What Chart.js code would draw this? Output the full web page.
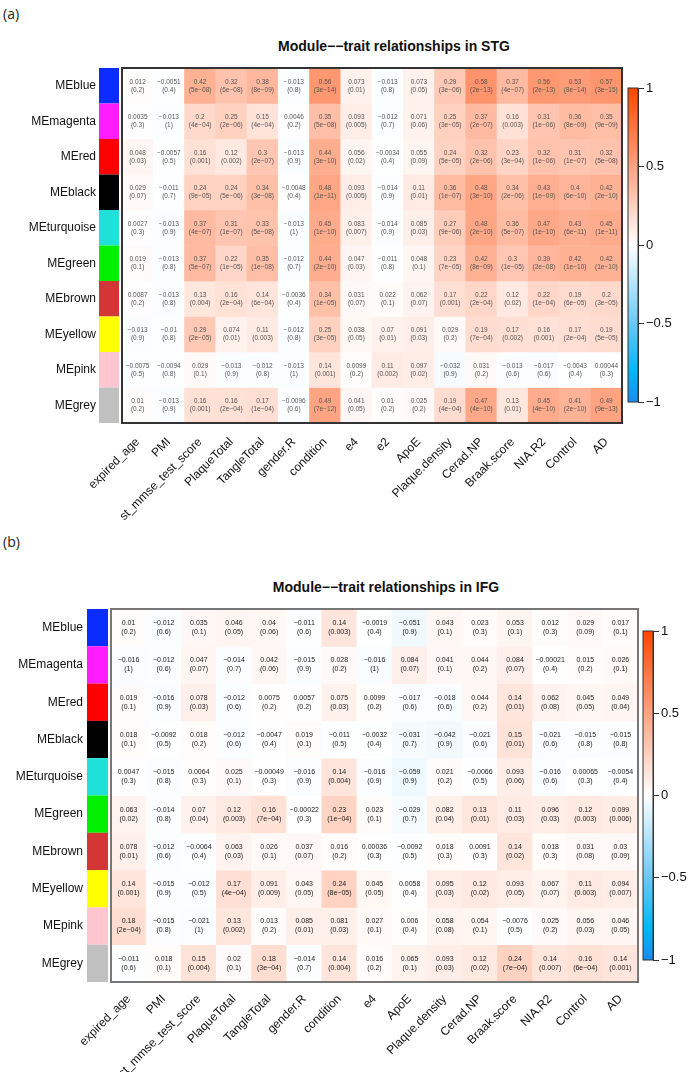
<!DOCTYPE html>
<html>
<head>
<meta charset="utf-8">
<script src="https://cdn.jsdelivr.net/npm/chart.js@4.4.1/dist/chart.umd.min.js"></script>
<style>
  html, body { margin: 0; padding: 0; background: #fff; }
  body { width: 688px; height: 1072px; position: relative; overflow: hidden; font-family: "Liberation Sans", Arial, sans-serif; }
  .tag { position: absolute; left: 3px; font-family: "Open Sans", sans-serif; font-size: 14px; color: #222; }
  .title { position: absolute; font-weight: bold; font-size: 14px; color: #111; transform: translateX(-50%); white-space: nowrap; }
  .box { position: absolute; }
</style>
</head>
<body>
<div class="tag" style="top:4px">(a)</div>
<div class="title" style="left:394px; top:38px">Module&minus;&minus;trait relationships in STG</div>
<div class="box" style="left:0; top:66px; width:625px; height:457px"><canvas id="heatA"></canvas></div>
<div class="box" style="left:620px; top:80px; width:68px; height:330px"><canvas id="barA"></canvas></div>

<div class="tag" style="top:532px">(b)</div>
<div class="title" style="left:386px; top:579px">Module&minus;&minus;trait relationships in IFG</div>
<div class="box" style="left:0; top:607px; width:641px; height:465px"><canvas id="heatB"></canvas></div>
<div class="box" style="left:635px; top:623px; width:53px; height:345px"><canvas id="barB"></canvas></div>

<script>
// module eigengenes (rows) and their colours
const modules = ['MEblue', 'MEmagenta', 'MEred', 'MEblack', 'MEturquoise', 'MEgreen', 'MEbrown', 'MEyellow', 'MEpink', 'MEgrey'];
const modColors = ['#0a2cff', '#ff1cff', '#ff0000', '#000000', '#20e0da', '#00f000', '#d43535', '#ffff00', '#ffc6d0', '#c0c0c0'];

// traits (columns)
const traitsA = ['expired_age', 'PMI', 'st_mmse_test_score', 'PlaqueTotal', 'TangleTotal', 'gender.R', 'condition', 'e4', 'e2', 'ApoE', 'Plaque.density', 'Cerad.NP', 'Braak.score', 'NIA.R2', 'Control', 'AD'];
const traitsB = ['expired_age', 'PMI', 'st_mmse_test_score', 'PlaqueTotal', 'TangleTotal', 'gender.R', 'condition', 'e4', 'ApoE', 'Plaque.density', 'Cerad.NP', 'Braak.score', 'NIA.R2', 'Control', 'AD'];

// STG: correlation and p-value per module x trait
const corrA = [
  [0.012, -0.0051, 0.42, 0.32, 0.38, -0.013, 0.56, 0.073, -0.013, 0.073, 0.29, 0.58, 0.37, 0.56, 0.53, 0.57],
  [0.0035, -0.013, 0.2, 0.25, 0.15, 0.0046, 0.35, 0.093, -0.012, 0.071, 0.25, 0.37, 0.16, 0.31, 0.36, 0.35],
  [0.048, -0.0057, 0.16, 0.12, 0.3, -0.013, 0.44, 0.056, -0.0034, 0.055, 0.24, 0.32, 0.23, 0.32, 0.31, 0.32],
  [0.029, -0.011, 0.24, 0.24, 0.34, -0.0048, 0.48, 0.093, -0.014, 0.11, 0.36, 0.48, 0.34, 0.43, 0.4, 0.42],
  [0.0027, -0.013, 0.37, 0.31, 0.33, -0.013, 0.45, 0.083, -0.014, 0.085, 0.27, 0.48, 0.36, 0.47, 0.43, 0.45],
  [0.019, -0.013, 0.37, 0.22, 0.35, -0.012, 0.44, 0.047, -0.011, 0.048, 0.23, 0.42, 0.3, 0.39, 0.42, 0.42],
  [0.0087, -0.013, 0.13, 0.16, 0.14, -0.0036, 0.34, 0.031, 0.022, 0.062, 0.17, 0.22, 0.12, 0.22, 0.19, 0.2],
  [-0.013, -0.01, 0.29, 0.074, 0.11, -0.012, 0.25, 0.038, 0.07, 0.091, 0.029, 0.19, 0.17, 0.16, 0.17, 0.19],
  [-0.0075, -0.0094, 0.029, -0.013, -0.012, -0.013, 0.14, 0.0099, 0.11, 0.097, -0.032, 0.031, -0.013, -0.017, -0.0043, 0.00044],
  [0.01, -0.013, 0.16, 0.16, 0.17, -0.0096, 0.49, 0.041, 0.01, 0.025, 0.19, 0.47, 0.13, 0.45, 0.41, 0.49]
];
const pA = [
  ['0.2', '0.4', '5e-08', '6e-08', '8e-09', '0.8', '3e-14', '0.01', '0.8', '0.05', '3e-06', '2e-13', '4e-07', '2e-13', '8e-14', '3e-15'],
  ['0.3', '1', '4e-04', '2e-06', '4e-04', '0.2', '5e-08', '0.005', '0.7', '0.06', '3e-05', '2e-07', '0.003', '1e-06', '8e-09', '9e-09'],
  ['0.03', '0.5', '0.001', '0.002', '2e-07', '0.9', '3e-10', '0.02', '0.4', '0.09', '5e-05', '2e-06', '3e-04', '1e-06', '1e-07', '5e-08'],
  ['0.07', '0.7', '9e-05', '5e-06', '3e-08', '0.4', '1e-11', '0.005', '0.9', '0.01', '1e-07', '3e-10', '2e-06', '1e-09', '6e-10', '2e-10'],
  ['0.3', '0.9', '4e-07', '1e-07', '5e-08', '1', '1e-10', '0.007', '0.9', '0.03', '9e-06', '2e-10', '5e-07', '1e-10', '6e-11', '1e-11'],
  ['0.1', '0.8', '5e-07', '1e-05', '1e-08', '0.7', '2e-10', '0.03', '0.8', '0.1', '7e-05', '8e-09', '1e-05', '2e-08', '1e-10', '1e-10'],
  ['0.2', '0.8', '0.004', '2e-04', '6e-04', '0.4', '1e-05', '0.07', '0.1', '0.07', '0.001', '2e-04', '0.02', '1e-04', '6e-05', '3e-05'],
  ['0.9', '0.8', '2e-05', '0.01', '0.003', '0.8', '3e-05', '0.05', '0.01', '0.03', '0.2', '7e-04', '0.002', '0.001', '2e-04', '5e-05'],
  ['0.5', '0.8', '0.1', '0.9', '0.8', '1', '0.001', '0.2', '0.002', '0.02', '0.9', '0.2', '0.6', '0.6', '0.4', '0.3'],
  ['0.2', '0.9', '0.001', '2e-04', '1e-04', '0.6', '7e-12', '0.05', '0.2', '0.2', '4e-04', '4e-10', '0.01', '4e-10', '2e-10', '9e-13']
];

// IFG
const corrB = [
  [0.01, -0.012, 0.035, 0.046, 0.04, -0.011, 0.14, -0.0019, -0.051, 0.043, 0.023, 0.053, 0.012, 0.029, 0.017],
  [-0.016, -0.012, 0.047, -0.014, 0.042, -0.015, 0.028, -0.016, 0.084, 0.041, 0.044, 0.084, -0.00021, 0.015, 0.026],
  [0.019, -0.016, 0.078, -0.012, 0.0075, 0.0057, 0.075, 0.0099, -0.017, -0.018, 0.044, 0.14, 0.062, 0.045, 0.049],
  [0.018, -0.0092, 0.018, -0.012, -0.0047, 0.019, -0.011, -0.0032, -0.031, -0.042, -0.021, 0.15, -0.021, -0.015, -0.015],
  [0.0047, -0.015, 0.0064, 0.025, -0.00049, -0.016, 0.14, -0.016, -0.059, 0.021, -0.0066, 0.093, -0.016, 0.00065, -0.0054],
  [0.063, -0.014, 0.07, 0.12, 0.16, -0.00022, 0.23, 0.023, -0.029, 0.082, 0.13, 0.11, 0.096, 0.12, 0.099],
  [0.078, -0.012, -0.0064, 0.063, 0.026, 0.037, 0.016, 0.00036, -0.0092, 0.018, 0.0091, 0.14, 0.018, 0.031, 0.03],
  [0.14, -0.015, -0.012, 0.17, 0.091, 0.043, 0.24, 0.045, 0.0058, 0.095, 0.12, 0.093, 0.067, 0.11, 0.094],
  [0.18, -0.015, -0.021, 0.13, 0.013, 0.085, 0.081, 0.027, 0.006, 0.058, 0.054, -0.0076, 0.025, 0.056, 0.046],
  [-0.011, 0.018, 0.15, 0.02, 0.18, -0.014, 0.14, 0.016, 0.065, 0.093, 0.12, 0.24, 0.14, 0.16, 0.14]
];
const pB = [
  ['0.2', '0.6', '0.1', '0.05', '0.06', '0.6', '0.003', '0.4', '0.9', '0.1', '0.3', '0.1', '0.3', '0.09', '0.1'],
  ['1', '0.6', '0.07', '0.7', '0.06', '0.9', '0.2', '1', '0.07', '0.1', '0.2', '0.07', '0.4', '0.2', '0.1'],
  ['0.1', '0.9', '0.03', '0.6', '0.2', '0.2', '0.03', '0.2', '0.6', '0.6', '0.2', '0.01', '0.08', '0.05', '0.04'],
  ['0.1', '0.5', '0.2', '0.6', '0.4', '0.1', '0.5', '0.4', '0.7', '0.9', '0.6', '0.01', '0.6', '0.8', '0.8'],
  ['0.3', '0.8', '0.3', '0.1', '0.3', '0.9', '0.004', '0.9', '0.9', '0.2', '0.5', '0.06', '0.6', '0.3', '0.4'],
  ['0.02', '0.8', '0.04', '0.003', '7e-04', '0.3', '1e-04', '0.1', '0.7', '0.04', '0.01', '0.03', '0.03', '0.003', '0.006'],
  ['0.01', '0.6', '0.4', '0.03', '0.1', '0.07', '0.2', '0.3', '0.5', '0.3', '0.3', '0.02', '0.3', '0.08', '0.09'],
  ['0.001', '0.9', '0.5', '4e-04', '0.009', '0.05', '8e-05', '0.05', '0.4', '0.03', '0.02', '0.05', '0.07', '0.003', '0.007'],
  ['2e-04', '0.8', '1', '0.002', '0.2', '0.01', '0.03', '0.1', '0.4', '0.08', '0.1', '0.5', '0.2', '0.03', '0.05'],
  ['0.6', '0.1', '0.004', '0.1', '3e-04', '0.7', '0.004', '0.2', '0.1', '0.03', '0.02', '7e-04', '0.007', '6e-04', '0.001']
];

const barTicks = [-1, -0.5, 0, 0.5, 1];

Chart.defaults.font.family = '"Liberation Sans", Arial, sans-serif';

// blue - white - red, like the R palette
const negStops = [[0, 255, 255, 255], [0.5, 105, 200, 245], [0.8, 0, 185, 245], [1, 25, 140, 240]];
const posStops = [[0, 255, 255, 255], [1, 255, 69, 0]];

function corrColor(v) {
    let stops = v < 0 ? negStops : posStops;
    let t = Math.min(1, Math.abs(v));
    for (let i = 1; i < stops.length; i++) {
        if (t <= stops[i][0]) {
            let a = stops[i - 1], b = stops[i];
            let f = (t - a[0]) / (b[0] - a[0]);
            let c = [1, 2, 3].map(k => Math.round(a[k] + (b[k] - a[k]) * f));
            return 'rgb(' + c.join(',') + ')';
        }
    }
    return 'rgb(255,69,0)';
}

function fmt(v) {
    return String(v).replace('-', '\u2212');
}

function cellPlugin(corr, pval, cfg) {
    return {
        id: 'cells',
        afterDatasetsDraw(chart) {
            const ctx = chart.ctx;
            const area = chart.chartArea;
            const y = chart.scales.y;
            ctx.save();

            // module colour strip left of the grid
            modules.forEach((m, r) => {
                let y0 = y.getPixelForValue(r), y1 = y.getPixelForValue(r + 1);
                ctx.fillStyle = modColors[r];
                ctx.fillRect(area.left - cfg.stripGap - cfg.stripW, y0, cfg.stripW, y1 - y0);
            });

            // correlation + (p value) in every cell
            ctx.font = cfg.fontSize + 'px "Liberation Sans", Arial, sans-serif';
            ctx.textAlign = 'center';
            ctx.textBaseline = 'middle';
            ctx.fillStyle = cfg.textColor;
            chart.data.datasets.forEach((ds, r) => {
                chart.getDatasetMeta(r).data.forEach((el, c) => {
                    let cy = (el.y + el.base) / 2;
                    ctx.fillText(fmt(corr[r][c]), el.x, cy - cfg.dy);
                    ctx.fillText('(' + fmt(pval[r][c]) + ')', el.x, cy + cfg.dy);
                });
            });

            ctx.strokeStyle = cfg.borderColor;
            ctx.lineWidth = cfg.borderWidth;
            ctx.strokeRect(area.left, area.top, area.right - area.left, area.bottom - area.top);
            ctx.restore();
        }
    };
}

function heatmap(id, traits, corr, pval, cfg) {
    let datasets = modules.map((m, r) => ({
        label: m,
        data: traits.map(() => [r, r + 1]),
        backgroundColor: corr[r].map(corrColor),
        borderWidth: 0,
        barPercentage: 1,
        categoryPercentage: 1,
        grouped: false
    }));

    return new Chart(document.getElementById(id), {
        type: 'bar',
        data: { labels: traits, datasets: datasets },
        options: {
            responsive: true,
            maintainAspectRatio: false,
            animation: false,
            layout: { padding: { top: 2, right: 3, left: 0, bottom: 0 } },
            plugins: { legend: { display: false }, tooltip: { enabled: false } },
            scales: {
                x: {
                    grid: { display: false },
                    border: { display: false },
                    ticks: { autoSkip: false, minRotation: 45, maxRotation: 45, padding: cfg.xPad, color: '#111', font: { size: 12 } },
                    afterFit(s) { s.height = cfg.xh; s.paddingLeft = 0; s.paddingRight = 0; }
                },
                y: {
                    min: 0,
                    max: modules.length,
                    reverse: true,
                    grid: { display: false, drawTicks: false },
                    border: { display: false },
                    afterBuildTicks(s) { s.ticks = modules.map((m, i) => ({ value: i + 0.5 })); },
                    ticks: { callback: (v, i) => modules[i], padding: cfg.labelPad, color: '#111', font: { size: 12 } },
                    afterFit(s) { s.width = cfg.yw; s.paddingTop = 0; s.paddingBottom = 0; }
                }
            }
        },
        plugins: [cellPlugin(corr, pval, cfg)]
    });
}

function colorBar(id, yw) {
    return new Chart(document.getElementById(id), {
        type: 'bar',
        data: {
            labels: [''],
            datasets: [{
                data: [[-1, 1]],
                borderWidth: 0,
                barPercentage: 1,
                categoryPercentage: 1,
                backgroundColor(c) {
                    const chart = c.chart;
                    if (!chart.chartArea) return null;
                    const y = chart.scales.y;
                    const g = chart.ctx.createLinearGradient(0, y.getPixelForValue(-1), 0, y.getPixelForValue(1));
                    for (let k = 0; k <= 20; k++) {
                        let v = -1 + k / 10;
                        g.addColorStop(k / 20, corrColor(v));
                    }
                    return g;
                }
            }]
        },
        options: {
            responsive: true,
            maintainAspectRatio: false,
            animation: false,
            layout: { padding: { left: 8, top: 8, bottom: 8, right: 0 } },
            plugins: { legend: { display: false }, tooltip: { enabled: false } },
            scales: {
                x: { display: false },
                y: {
                    position: 'right',
                    min: -1,
                    max: 1,
                    afterBuildTicks(s) { s.ticks = barTicks.map(v => ({ value: v })); },
                    grid: { drawOnChartArea: false, drawTicks: true, tickLength: 6, color: '#333' },
                    border: { display: true, color: '#333' },
                    ticks: { padding: 2, color: '#111', font: { size: 13 }, callback: v => fmt(v) },
                    afterFit(s) { s.width = yw; s.paddingTop = 0; s.paddingBottom = 0; }
                }
            }
        },
        plugins: [{
            id: 'barBox',
            afterDatasetsDraw(chart) {
                const a = chart.chartArea, ctx = chart.ctx;
                ctx.save();
                ctx.strokeStyle = '#333';
                ctx.lineWidth = 1;
                ctx.strokeRect(a.left, a.top, a.right - a.left, a.bottom - a.top);
                ctx.restore();
            }
        }]
    });
}

heatmap('heatA', traitsA, corrA, pA, {
    yw: 122, xh: 100, xPad: 4, labelPad: 26, stripW: 20, stripGap: 3,
    fontSize: 6.5, dy: 4, textColor: '#555', borderColor: '#333', borderWidth: 2
});
colorBar('barA', 50);

heatmap('heatB', traitsB, corrB, pB, {
    yw: 111, xh: 90, xPad: 2, labelPad: 28, stripW: 21, stripGap: 3,
    fontSize: 7, dy: 4.5, textColor: '#222', borderColor: '#777', borderWidth: 2
});
colorBar('barB', 35);
</script>
</body>
</html>
